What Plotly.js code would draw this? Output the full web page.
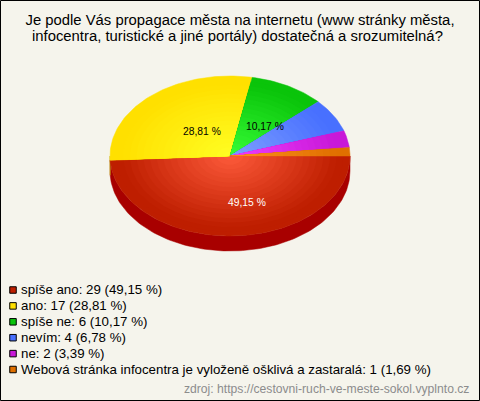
<!DOCTYPE html>
<html><head><meta charset="utf-8">
<script src="https://cdn.plot.ly/plotly-3.0.1.min.js"></script>
<style>html,body{margin:0;padding:0;background:#f5f4ec}#c{width:480px;height:401px}</style>
</head><body><div id="c"></div>
<script>
var categories = ["spíše ano","ano","spíše ne","nevím","ne","Webová stránka infocentra je vyloženě ošklivá a zastaralá"];
var counts = [29,17,6,4,2,1];
var percentText = ["49,15 %","28,81 %","10,17 %","6,78 %","3,39 %","1,69 %"];
var titleLines = ["Je podle Vás propagace města na internetu (www stránky města,","infocentra, turistické a jiné portály) dostatečná a srozumitelná?"];
var sourceText = "zdroj: https://cestovni-ruch-ve-meste-sokol.vyplnto.cz";

var outerColors = [[190,30,0],[255,224,0],[10,196,10],[72,112,255],[200,24,216],[224,112,0]];
var innerColors = [[255,92,60],[255,255,36],[56,255,56],[128,160,255],[240,64,255],[255,144,32]];
var wallColors  = [[168,0,0],[190,160,0],[8,140,8],[50,80,190],[140,16,150],[160,80,0]];
var labelPos = [[246.5,202,"#fff"],[201.5,131,"#000"],[265,126,"#000"]];

var cx=230, cy=156, rx=120, ry=80, depth=15, rings=18;
var total = counts.reduce(function(a,b){return a+b;},0);
function rgb(c){return "rgb("+c.map(Math.round).join(",")+")";}
function sector(a0,a1,f){
  var xs=[cx], ys=[cy], n=Math.max(2,Math.ceil((a1-a0)/1.5));
  for(var i=0;i<=n;i++){var a=(a0+(a1-a0)*i/n)*Math.PI/180;
    xs.push(cx+rx*f*Math.cos(a)); ys.push(cy-ry*f*Math.sin(a));}
  xs.push(cx); ys.push(cy);
  return {x:xs,y:ys};
}
function wall(a0,a1){
  var xs=[], ys=[], n=Math.max(2,Math.ceil((a1-a0)/1.5)), i, a;
  for(i=0;i<=n;i++){a=(a0+(a1-a0)*i/n)*Math.PI/180; xs.push(cx+rx*Math.cos(a)); ys.push(cy-ry*Math.sin(a));}
  for(i=n;i>=0;i--){a=(a0+(a1-a0)*i/n)*Math.PI/180; xs.push(cx+rx*Math.cos(a)); ys.push(cy-ry*Math.sin(a)+depth);}
  xs.push(xs[0]); ys.push(ys[0]);
  return {x:xs,y:ys};
}
// Slices run counter-clockwise from 3 o'clock, last category first.
var spans=[], acc=0;
for(var k=counts.length-1;k>=0;k--){
  var a0=acc/total*360; acc+=counts[k];
  spans[k]=[a0,acc/total*360];
}
var traces=[];
counts.forEach(function(v,k){
  var s=spans[k], lo=Math.max(s[0],180), hi=s[1];
  if(hi>lo){var w=wall(lo,hi);
    traces.push({x:w.x,y:w.y,type:"scatter",mode:"lines",fill:"toself",fillcolor:rgb(wallColors[k]),
      line:{width:0.5,color:rgb(wallColors[k])},hoverinfo:"skip",showlegend:false});}
});
counts.forEach(function(v,k){
  for(var r=0;r<rings;r++){
    var f=1-r/rings, t=Math.min(1,f/0.92);
    var col=innerColors[k].map(function(c,i){return c+(outerColors[k][i]-c)*t;});
    var p=sector(spans[k][0],spans[k][1],f);
    traces.push({x:p.x,y:p.y,type:"scatter",mode:"lines",fill:"toself",fillcolor:rgb(col),
      line:{width:r===0?0.5:0,color:rgb(col)},name:categories[k],hoverinfo:"skip",showlegend:false});
  }
});
var ann=[];
categories.forEach(function(c,k){
  var yy=290+k*15.9;
  traces.push({x:[13],y:[yy],type:"scatter",mode:"markers",name:c,
    marker:{symbol:"square",size:6.5,color:rgb(outerColors[k]),line:{width:1,color:"#000"}},
    cliponaxis:false,hoverinfo:"skip",showlegend:false});
  ann.push({x:19,y:yy-0.5,xref:"x",yref:"y",xanchor:"left",showarrow:false,
    text:c+": "+counts[k]+" ("+percentText[k]+")",
    font:{family:"Liberation Sans",size:13.3,color:"#000"}});
});
labelPos.forEach(function(p,i){
  ann.push({x:p[0],y:p[1],xref:"x",yref:"y",text:percentText[i],showarrow:false,
    font:{family:"Liberation Sans",size:10.3,color:p[2]}});
});
ann.push({x:237,y:36,xref:"x",yref:"y",text:titleLines[1],showarrow:false,
  font:{family:"Liberation Sans",size:14.85,color:"#000"}});
ann.push({x:470.5,y:388.5,xref:"x",yref:"y",xanchor:"right",text:sourceText,showarrow:false,
  font:{family:"Liberation Sans",size:12.15,color:"#8c8c8c"}});
var layout={width:480,height:401,margin:{l:0,r:0,t:0,b:0},
  paper_bgcolor:"#f5f4ec",plot_bgcolor:"rgba(0,0,0,0)",showlegend:false,
  title:{text:titleLines[0],x:0.5,xanchor:"center",y:1-20/401,yanchor:"middle",xref:"paper",yref:"paper",
    font:{family:"Liberation Sans",size:14.85,color:"#000"}},
  xaxis:{range:[0,480],visible:false,fixedrange:true},
  yaxis:{range:[401,0],visible:false,fixedrange:true},
  annotations:ann,
  shapes:[{type:"rect",xref:"x",yref:"y",x0:0.5,x1:479.5,y0:0.5,y1:400.5,line:{color:"#000",width:1},fillcolor:"rgba(0,0,0,0)",layer:"above"}]
};
Plotly.newPlot("c",traces,layout,{displayModeBar:false,staticPlot:true});
</script></body></html>
